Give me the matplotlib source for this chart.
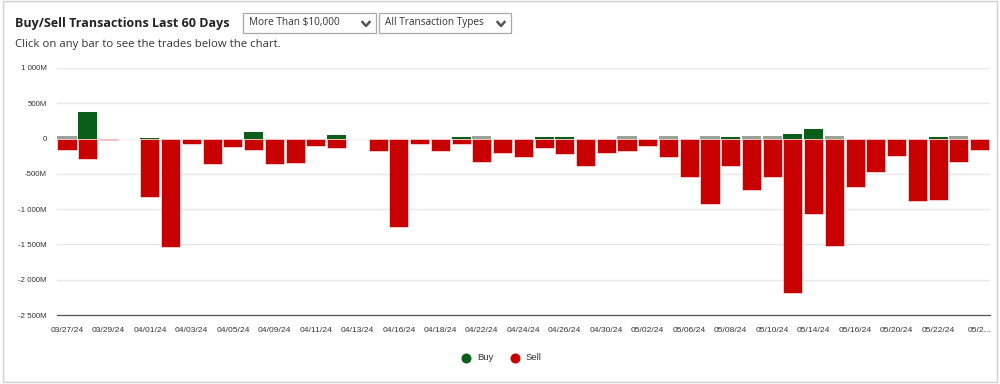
import numpy as np
import matplotlib.pyplot as plt
from matplotlib.patches import Rectangle
from matplotlib.lines import Line2D


dates = ['03/27/24', '03/28/24', '03/29/24', '03/31/24', '04/01/24', '04/02/24',
         '04/03/24', '04/04/24', '04/05/24', '04/08/24', '04/09/24', '04/10/24',
         '04/11/24', '04/12/24', '04/13/24', '04/15/24', '04/16/24', '04/17/24',
         '04/18/24', '04/19/24', '04/22/24', '04/23/24', '04/24/24', '04/25/24',
         '04/26/24', '04/29/24', '04/30/24', '05/01/24', '05/02/24', '05/03/24',
         '05/06/24', '05/07/24', '05/08/24', '05/09/24', '05/10/24', '05/13/24',
         '05/14/24', '05/15/24', '05/16/24', '05/17/24', '05/20/24', '05/21/24',
         '05/22/24', '05/23/24', '05/24/24']

# millions of dollars
buy = [0, 380, 0, 0, 15, 0, 0, 0, 0, 100, 0, 0, 0, 50, 0, 0, 0, 0, 0, 20,
       0, 0, 0, 20, 20, 0, 0, 0, 0, 0, 0, 0, 20, 0, 0, 60, 135, 0, 0, 0,
       0, 0, 20, 0, 0]
sell = [-160, -290, -25, 0, -835, -1530, -80, -355, -125, -160, -355, -345,
        -100, -135, 0, -175, -1250, -80, -175, -80, -325, -210, -265, -135,
        -220, -390, -200, -175, -105, -265, -550, -930, -390, -730, -540,
        -2190, -1075, -1520, -685, -470, -240, -880, -870, -335, -160]
# small grey marks shown above zero on some days
other = [35, 0, 0, 0, 0, 0, 0, 0, 0, 0, 0, 0, 0, 0, 0, 0, 0, 0, 0, 0,
         35, 0, 0, 0, 0, 0, 0, 35, 0, 35, 0, 35, 0, 35, 35, 0, 0, 35, 0, 0,
         0, 0, 0, 35, 0]

yticks = [1000, 500, 0, -500, -1000, -1500, -2000, -2500]

GREEN = '#0a5e17'
RED = '#c90000'
GREY = '#9aa397'


def fmtM(v):
    if v == 0:
        return '0'
    return f'{v:,.0f}'.replace(',', ' ') + 'M'


fig = plt.figure(figsize=(10, 3.84), dpi=100)
H = 384.0

# panel border
fig.patches.append(Rectangle((0.003, 0.004), 0.994, 0.993, transform=fig.transFigure,
                             fill=False, edgecolor='#d0d0d0', linewidth=1))

ax = fig.add_axes([0.0566, 1 - 315 / H, 0.990 - 0.0566, (315 - 68) / H])
x = np.arange(len(dates))
w = 0.92
ax.bar(x, other, width=w, color=GREY, linewidth=0, zorder=3)
ax.bar(x, buy, width=w, color=GREEN, linewidth=0, zorder=3)
ax.bar(x, sell, width=w, color=RED, edgecolor='white', linewidth=0.4, zorder=4)

ax.set_xlim(-0.5, len(dates) - 0.5)
ax.set_ylim(-2500, 1000)
ax.set_yticks(yticks)
ax.set_yticklabels([fmtM(v) for v in yticks], fontsize=5.7, color='#333333',
                   family='Liberation Sans')
ax.grid(axis='y', color='#e6e6e6', linewidth=0.9, zorder=0)
ax.axhline(0, color='#dddddd', linewidth=0.8, zorder=1)

labels = []
for i, d in enumerate(dates):
    labels.append(d if i % 2 == 0 else '')
labels[-1] = labels[-1][:4] + '...'
ax.set_xticks(x)
ax.set_xticklabels(labels, fontsize=6.1, color='#333333', family='Liberation Sans')
ax.tick_params(axis='both', length=0, pad=7)
ax.tick_params(axis='x', pad=9)
for s in ['top', 'right', 'left']:
    ax.spines[s].set_visible(False)
ax.spines['bottom'].set_color('#555555')
ax.spines['bottom'].set_linewidth(0.9)

# header
fig.text(15 / 1000, 1 - 23 / H, 'Buy/Sell Transactions Last 60 Days', fontsize=9.0,
         fontweight='bold', family='Open Sans', color='#222222', va='center')
fig.text(15 / 1000, 1 - 44 / H, 'Click on any bar to see the trades below the chart.',
         fontsize=8.2, family='Open Sans', color='#333333', va='center')

# dropdowns
for (x0, x1, txt) in [(243, 376, 'More Than $10,000'), (379, 511, 'All Transaction Types')]:
    fig.patches.append(Rectangle((x0 / 1000, 1 - 33 / H), (x1 - x0) / 1000, 20 / H,
                                 transform=fig.transFigure, fill=False,
                                 edgecolor='#a8a8a8', linewidth=0.9))
    fig.text((x0 + 6) / 1000, 1 - 23 / H, txt, fontsize=7.2, family='Open Sans',
             color='#333333', va='center')
    cx = x1 - 10
    fig.lines.append(Line2D([(cx - 3.5) / 1000, cx / 1000, (cx + 3.5) / 1000],
                            [1 - 22 / H, 1 - 26 / H, 1 - 22 / H],
                            transform=fig.transFigure, color='#555555', linewidth=1.8))

# legend
for lx, txt, c in [(466, 'Buy', GREEN), (515, 'Sell', RED)]:
    fig.lines.append(Line2D([lx / 1000], [1 - 358 / H], marker='o', markersize=6.2,
                            color=c, transform=fig.transFigure, linestyle='none'))
    fig.text((lx + 11) / 1000, 1 - 358 / H, txt, fontsize=6.8, family='Liberation Sans',
             color='#333333', va='center')

fig.savefig('out.png', dpi=100)
